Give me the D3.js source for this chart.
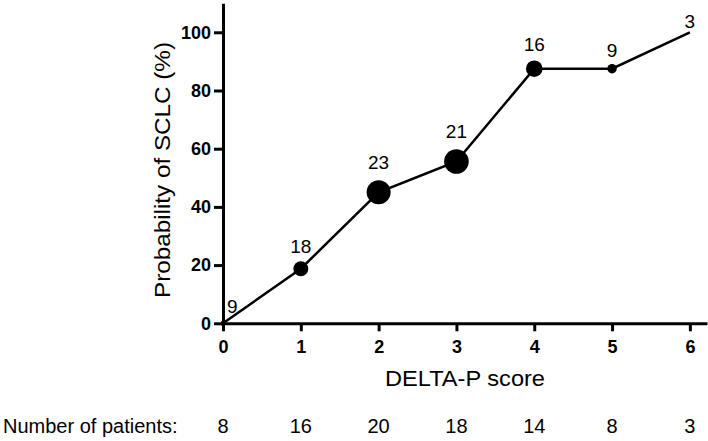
<!DOCTYPE html>
<html>
<head>
<meta charset="utf-8">
<script src="https://cdn.jsdelivr.net/npm/d3@7"></script>
<style>
  body { margin: 0; background: #fff; }
  svg { font-family: "Liberation Sans", Arial, sans-serif; }
</style>
</head>
<body>
<svg width="708" height="441"></svg>
<script>
// DELTA-P score vs probability of SCLC
const scores = [0, 1, 2, 3, 4, 5, 6];
const probability = [0, 18.75, 45, 55.6, 87.5, 87.5, 100]; // %
const pointLabels = ["9", "18", "23", "21", "16", "9", "3"];
const markerRadius = [2.5, 7.5, 12, 12.3, 8.3, 4.7, 0];
const patients = [8, 16, 20, 18, 14, 8, 3];
const yTicks = [0, 20, 40, 60, 80, 100];

const svg = d3.select("svg");

const x = d3.scaleLinear().domain([0, 6.22]).range([223, 707]);
const y = d3.scaleLinear().domain([0, 110]).range([323.3, 3.2]);

// axes
const xAxis = svg.append("g")
  .attr("transform", "translate(0," + y(0) + ")")
  .call(d3.axisBottom(x).tickValues(scores).tickFormat(d3.format("d"))
    .tickSize(8).tickPadding(9).tickSizeOuter(0));

const yAxis = svg.append("g")
  .attr("transform", "translate(" + x(0) + ",0)")
  .call(d3.axisLeft(y).tickValues(yTicks).tickSize(9).tickPadding(3).tickSizeOuter(0));

[xAxis, yAxis].forEach(function(g) {
  g.select(".domain").attr("stroke", "#000").attr("stroke-width", 3);
  g.selectAll(".tick line").attr("stroke", "#000").attr("stroke-width", 3);
  g.selectAll(".tick text")
    .attr("fill", "#000")
    .style("font-size", "18px")
    .style("font-weight", "bold")
    .style("font-family", "'Liberation Sans', Arial, sans-serif");
});

// line
const pts = scores.map(function(s, i) {
  return { s: s, p: probability[i], label: pointLabels[i], r: markerRadius[i] };
});

svg.append("path")
  .datum(pts)
  .attr("fill", "none")
  .attr("stroke", "#000")
  .attr("stroke-width", 2.5)
  .attr("d", d3.line().x(d => x(d.s)).y(d => y(d.p)));

svg.selectAll("circle.pt")
  .data(pts.filter(d => d.r > 0))
  .enter().append("circle")
  .attr("class", "pt")
  .attr("cx", d => x(d.s))
  .attr("cy", d => y(d.p))
  .attr("r", d => d.r)
  .attr("fill", "#000");

// labels above the points (first one sits to the right of the origin)
svg.selectAll("text.pl")
  .data(pts)
  .enter().append("text")
  .attr("class", "pl")
  .attr("x", (d, i) => i === 0 ? x(d.s) + 4 : x(d.s))
  .attr("y", (d, i) => i === 0 ? y(d.p) - 10 : y(d.p) - (4 + d.r * 1.6))
  .attr("text-anchor", (d, i) => i === 0 ? "start" : "middle")
  .style("font-size", "19px")
  .text(d => d.label);

// axis titles
svg.append("text")
  .attr("x", 465)
  .attr("y", 386)
  .attr("text-anchor", "middle")
  .attr("textLength", 160)
  .attr("lengthAdjust", "spacingAndGlyphs")
  .style("font-size", "22px")
  .text("DELTA-P score");

svg.append("text")
  .attr("transform", "translate(170,170) rotate(-90)")
  .attr("text-anchor", "middle")
  .attr("textLength", 256)
  .attr("lengthAdjust", "spacingAndGlyphs")
  .style("font-size", "22px")
  .text("Probability of SCLC (%)");

// patients row
svg.append("text")
  .attr("x", 3)
  .attr("y", 433)
  .style("font-size", "20px")
  .text("Number of patients:");

svg.selectAll("text.np")
  .data(patients)
  .enter().append("text")
  .attr("class", "np")
  .attr("x", (d, i) => x(scores[i]))
  .attr("y", 433)
  .attr("text-anchor", "middle")
  .style("font-size", "20px")
  .text(d => d);
</script>
</body>
</html>
